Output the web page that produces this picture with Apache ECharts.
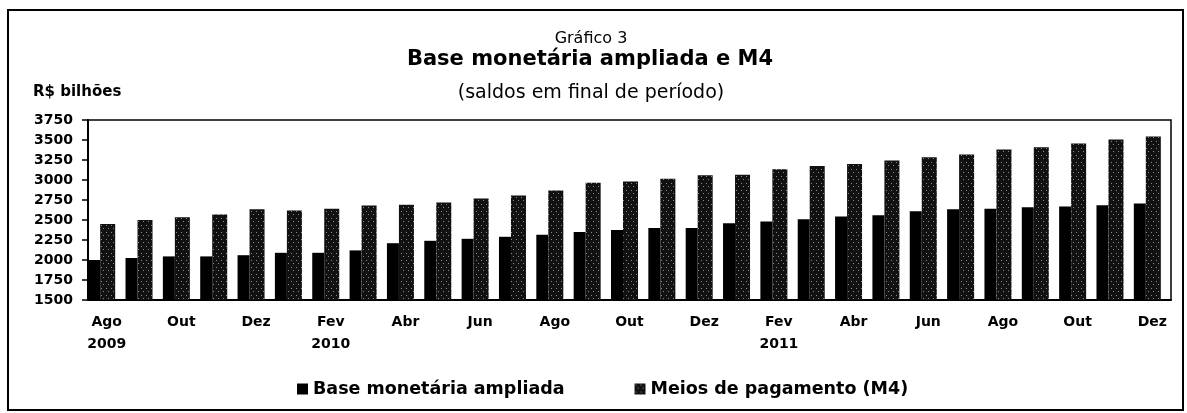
<!DOCTYPE html>
<html>
<head>
<meta charset="utf-8">
<script src="https://cdn.jsdelivr.net/npm/echarts@6/dist/echarts.min.js"></script>
<style>
  html, body { margin: 0; padding: 0; background: #fff; }
  #chart { width: 1187px; height: 413px; }
</style>
</head>
<body>
<div id="chart"></div>
<script>
// meses (rótulo do ano só no primeiro mês mostrado de cada ano)
const months = ['Ago\n2009', 'Set', 'Out', 'Nov', 'Dez',
  'Jan', 'Fev\n2010', 'Mar', 'Abr', 'Mai', 'Jun', 'Jul', 'Ago', 'Set', 'Out', 'Nov', 'Dez',
  'Jan', 'Fev\n2011', 'Mar', 'Abr', 'Mai', 'Jun', 'Jul', 'Ago', 'Set', 'Out', 'Nov', 'Dez']

// R$ bilhões
const baseAmpliada = [2000, 2025, 2045, 2045, 2060, 2090, 2090, 2120, 2210, 2240, 2265, 2290, 2315, 2350, 2375,
  2400, 2400, 2460, 2480, 2510, 2545, 2560, 2610, 2635, 2640, 2660, 2670, 2685, 2705]
const meiosM4 = [2450, 2500, 2535, 2570, 2635, 2620, 2640, 2680, 2690, 2720, 2770, 2805, 2870, 2965, 2980,
  3015, 3060, 3065, 3135, 3175, 3200, 3245, 3285, 3320, 3380, 3410, 3455, 3505, 3545]

const yMin = 1500, yMax = 3750, yStep = 250

const bold = 'DejaVu Sans'

// textura pontilhada das barras de M4
function dotPattern() {
  const c = document.createElement('canvas')
  c.width = 5; c.height = 7
  const ctx = c.getContext('2d')
  ctx.fillStyle = '#111'
  ctx.fillRect(0, 0, 5, 7)
  ctx.fillStyle = '#8a8a8a'
  ctx.fillRect(1, 1, 1, 1)
  ctx.fillRect(3, 4, 1, 1)
  return c
}

const chart = echarts.init(document.getElementById('chart'))

const option = {
  animation: false,
  grid: { left: 88, right: 16, top: 120, bottom: 113, show: true, borderColor: '#000', borderWidth: 1.5 },
  graphic: [
    { type: 'rect', shape: { x: 8, y: 10, width: 1175, height: 400 },
      style: { fill: 'none', stroke: '#000', lineWidth: 2 }, silent: true },
    { type: 'text', x: 591, y: 39, style: { text: 'Gráfico 3', font: '16px "DejaVu Sans"', fill: '#000', align: 'center', verticalAlign: 'middle' } },
    { type: 'text', x: 590, y: 60, style: { text: 'Base monetária ampliada e M4', font: 'bold 21px "DejaVu Sans"', fill: '#000', align: 'center', verticalAlign: 'middle' } },
    { type: 'text', x: 591, y: 93, style: { text: '(saldos em final de período)', font: '19px "DejaVu Sans"', fill: '#000', align: 'center', verticalAlign: 'middle' } },
    { type: 'text', x: 33, y: 92, style: { text: 'R$ bilhões', font: 'bold 15px "DejaVu Sans"', fill: '#000', align: 'left', verticalAlign: 'middle' } }
  ],
  legend: {
    data: ['Base monetária ampliada', 'Meios de pagamento (M4)'],
    bottom: 10,
    left: 292,
    icon: 'rect',
    itemWidth: 11,
    itemHeight: 11,
    itemGap: 70,
    textStyle: { fontFamily: bold, fontWeight: 'bold', fontSize: 17.5, color: '#000' }
  },
  xAxis: {
    type: 'category',
    data: months,
    axisLine: { lineStyle: { color: '#000', width: 2 } },
    axisTick: { interval: 1, length: 4, lineStyle: { color: '#000', width: 1.5 } },
    axisLabel: { interval: 1, color: '#000', fontFamily: bold, fontWeight: 'bold', fontSize: 14, lineHeight: 22, margin: 11 },
    splitLine: { show: false }
  },
  yAxis: {
    type: 'value',
    min: yMin,
    max: yMax,
    interval: yStep,
    axisLine: { show: true, lineStyle: { color: '#000', width: 2 } },
    axisTick: { show: true, length: 6, lineStyle: { color: '#000', width: 1.5 } },
    axisLabel: { color: '#000', fontFamily: bold, fontWeight: 'bold', fontSize: 14, margin: 15, formatter: v => String(v) },
    splitLine: { show: false }
  },
  series: [
    {
      name: 'Base monetária ampliada',
      type: 'bar',
      barWidth: 12,
      barGap: '0%',
      itemStyle: { color: '#000' },
      data: baseAmpliada
    },
    {
      name: 'Meios de pagamento (M4)',
      type: 'bar',
      barWidth: 15,
      itemStyle: { color: { image: dotPattern(), repeat: 'repeat' } },
      data: meiosM4
    },
    {
      // espaço vazio à direita de cada par, como no original
      name: 'vazio',
      type: 'bar',
      barWidth: 10,
      silent: true,
      data: months.map(() => null)
    }
  ]
}

chart.setOption(option)
</script>
</body>
</html>
